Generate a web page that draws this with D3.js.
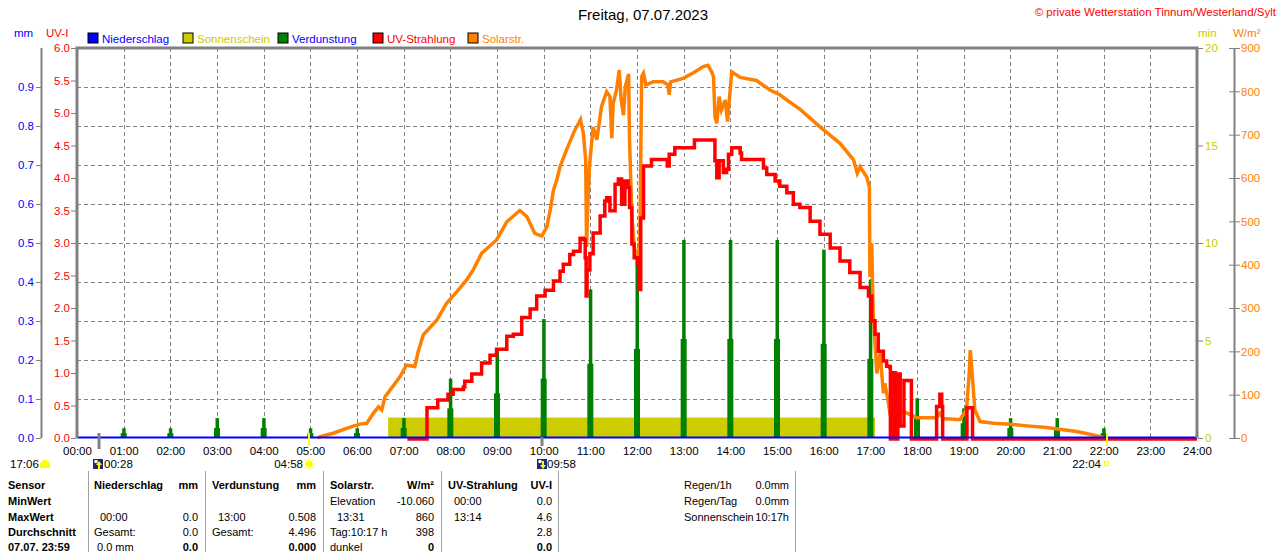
<!DOCTYPE html>
<html>
<head>
<meta charset="utf-8">
<script src="https://cdn.jsdelivr.net/npm/d3@7"></script>
<style>
body { margin: 0; background: #fff; }
svg { display: block; font-family: "Liberation Sans", Arial, sans-serif; }
</style>
</head>
<body>
<div id="chart"></div>
<script>
// ---- data ----
var hourTicks = [0, 1, 2, 3, 4, 5, 6, 7, 8, 9, 10, 11, 12, 13, 14, 15, 16, 17, 18, 19, 20, 21, 22, 23, 24];
var mmTicks = [0, 0.1, 0.2, 0.3, 0.4, 0.5, 0.6, 0.7, 0.8, 0.9];
var uvTicks = [0, 0.5, 1, 1.5, 2, 2.5, 3, 3.5, 4, 4.5, 5, 5.5, 6];
var minTicks = [0, 5, 10, 15, 20];
var solarTicks = [0, 100, 200, 300, 400, 500, 600, 700, 800, 900];

// Niederschlag (mm), flat zero all day
var rainTime = [0, 24];
var rainValue = [0, 0];

// Verdunstung per hour (mm)
var evapHours = [1, 2, 3, 4, 5, 6, 7, 8, 9, 10, 11, 12, 13, 14, 15, 16, 17, 18, 19, 20, 21, 22];
var evapValue = [0.025, 0.025, 0.051, 0.051, 0.025, 0.025, 0.051, 0.152, 0.229, 0.305, 0.381,
                 0.457, 0.508, 0.508, 0.508, 0.483, 0.406, 0.102, 0.076, 0.051, 0.051, 0.025];

// Sonnenschein (min)
var sunFrom = ["06:40"];
var sunTo = ["17:06"];
var sunValue = [1.05];

// Solarstrahlung (W/m2)
var solarTime = [5.15, 5.21, 5.49, 5.85, 6.06, 6.21, 6.35, 6.46, 6.53, 6.6, 6.92, 7.06, 7.24, 7.31, 7.42,
  7.71, 7.92, 8.14, 8.35, 8.49, 8.67, 8.99, 9.21, 9.49, 9.64, 9.81, 9.96, 10.07, 10.14, 10.21, 10.28,
  10.35, 10.49, 10.67, 10.79, 10.85, 10.9, 10.92, 10.94, 10.98, 11.06, 11.14, 11.24, 11.35, 11.42,
  11.46, 11.49, 11.56, 11.62, 11.66, 11.71, 11.75, 11.82, 11.84, 11.89, 11.94, 12.01, 12.06, 12.1,
  12.14, 12.19, 12.35, 12.56, 12.66, 12.69, 12.72, 12.99, 13.21, 13.42, 13.52, 13.6, 13.64, 13.67,
  13.71, 13.76, 13.81, 13.89, 13.94, 13.99, 14.03, 14.21, 14.56, 14.85, 15.06, 15.21, 15.49, 15.92,
  16.35, 16.64, 16.72, 16.78, 16.92, 16.98, 16.99, 17.03, 17.06, 17.14, 17.17, 17.21, 17.28, 17.31,
  17.39, 17.42, 17.64, 17.99, 18.42, 18.49, 18.56, 18.92, 19.06, 19.12, 19.14, 19.17, 19.24, 19.35,
  19.64, 19.99, 20.35, 20.78, 21.06, 21.42, 21.78, 21.92, 22.0];
var solarValue = [0, 3, 11, 25, 32, 34, 57, 72, 65, 95, 141, 168, 165, 199, 238,
  272, 311, 338, 365, 388, 426, 457, 499, 525, 511, 472, 466, 488, 526, 572, 595,
  626, 665, 711, 735, 703, 642, 441, 520, 626, 718, 688, 765, 799, 788,
  692, 772, 803, 849, 780, 745, 811, 840, 688, 511, 441, 411, 449, 834,
  842, 815, 822, 822, 815, 792, 822, 830, 843, 857, 860, 845, 834, 742,
  726, 788, 757, 780, 730, 795, 845, 832, 825, 803, 792, 780, 759, 718,
  680, 642, 611, 626, 603, 580, 372, 449, 288, 149, 172, 195, 103, 126,
  80, 57, 65, 47, 47, 57, 45, 42, 65, 150, 203, 165, 65, 38,
  34, 32, 28, 24, 20, 15, 7, 3, 0];

// UV-Strahlung (UV-I)
var uvTime = [7.08, 7.49, 7.5, 7.72, 7.73, 7.93, 7.95, 8.06, 8.28, 8.31, 8.46, 8.56, 8.67, 8.85, 8.99,
  9.21, 9.35, 9.53, 9.71, 9.85, 10.03, 10.21, 10.35, 10.42, 10.56, 10.64, 10.78, 10.85, 10.89, 10.91,
  10.93, 10.99, 11.06, 11.21, 11.31, 11.35, 11.42, 11.46, 11.53, 11.6, 11.67, 11.74, 11.81, 11.84,
  11.89, 11.94, 12.01, 12.05, 12.08, 12.14, 12.28, 12.31, 12.49, 12.6, 12.65, 12.69, 12.81, 13.21,
  13.23, 13.6, 13.67, 13.71, 13.76, 13.85, 13.92, 13.96, 14.03, 14.21, 14.24, 14.49, 14.71, 14.78,
  14.96, 15.06, 15.21, 15.35, 15.49, 15.71, 15.92, 16.14, 16.35, 16.56, 16.78, 16.96, 17.03, 17.1,
  17.17, 17.28, 17.35, 17.42, 17.43, 17.47, 17.48, 17.53, 17.54, 17.58, 17.59, 17.63, 17.64, 17.7,
  17.72, 17.86, 17.88, 18.39, 18.42, 18.49, 18.53, 18.55, 19.06, 19.07, 19.17, 19.19, 24];
var uvValue = [0, 0, 0.48, 0.48, 0.6, 0.6, 0.69, 0.76, 0.8, 0.89, 1.0, 1.0, 1.17, 1.29, 1.38,
  1.58, 1.61, 1.87, 2.0, 2.2, 2.29, 2.43, 2.58, 2.69, 2.84, 2.89, 3.09, 3.07, 2.79, 2.2,
  2.6, 2.85, 3.17, 3.43, 3.66, 3.71, 3.51, 3.51, 3.92, 4.0, 3.61, 3.97, 3.87, 3.56,
  3.0, 2.79, 2.69, 2.3, 3.4, 4.2, 4.2, 4.3, 4.3, 4.3, 4.2, 4.38, 4.48, 4.48,
  4.6, 4.6, 4.28, 4.02, 4.28, 4.1, 4.15, 4.38, 4.48, 4.4, 4.3, 4.3, 4.17, 4.07,
  3.97, 3.89, 3.79, 3.61, 3.56, 3.35, 3.15, 2.94, 2.74, 2.56, 2.33, 2.2, 1.82, 1.61,
  1.35, 1.2, 1.12, 1.1, 0, 0, 1.02, 1.02, 0, 0, 1.0, 1.0, 0.2, 0.2,
  0.9, 0.9, 0, 0, 0.5, 0.69, 0.5, 0, 0, 0.48, 0.48, 0, 0];

// moon / sun markers under the time axis
var markerTime = ["00:28", "04:58", "09:58", "22:04"];
var markerKind = ["moonrise", "sunrise", "moonset", "sunset"];

// ---- layout ----
var width = 1280, height = 552;
var plotL = 77, plotR = 1197, plotT = 48, plotB = 438;
var fontAxis = "11.5px";
var cBlue = "#0000ff", cYellow = "#cccc00", cGreen = "#008000", cRed = "#ff0000", cOrange = "#ff8000", cGray = "#808080";

function hm(s) { var p = s.split(":"); return +p[0] + p[1] / 60; }

var svg = d3.select("#chart").append("svg")
    .attr("width", width)
    .attr("height", height);

var x = d3.scaleLinear().domain([0, 24]).range([plotL, plotR]);
var yMm = d3.scaleLinear().domain([0, 1]).range([plotB, plotT]);
var yUv = d3.scaleLinear().domain([0, 6]).range([plotB, plotT]);
var yMin = d3.scaleLinear().domain([0, 20]).range([plotB, plotT]);
var yW = d3.scaleLinear().domain([0, 900]).range([plotB, plotT]);

// title + copyright
svg.append("text").attr("x", 643).attr("y", 20).attr("text-anchor", "middle")
    .attr("font-size", "15px").attr("fill", "#000").text("Freitag, 07.07.2023");
svg.append("text").attr("x", 1276).attr("y", 16).attr("text-anchor", "end")
    .attr("font-size", "11.5px").attr("fill", cRed).text("\u00A9 private Wetterstation Tinnum/Westerland/Sylt");

// unit labels
svg.append("text").attr("x", 14).attr("y", 37).attr("font-size", fontAxis).attr("fill", cBlue).text("mm");
svg.append("text").attr("x", 46).attr("y", 37).attr("font-size", fontAxis).attr("fill", cRed).text("UV-I");
svg.append("text").attr("x", 1198).attr("y", 37).attr("font-size", fontAxis).attr("fill", cYellow).text("min");
svg.append("text").attr("x", 1233).attr("y", 37).attr("font-size", fontAxis).attr("fill", cOrange).text("W/m\u00B2");

// legend
var legendNames = ["Niederschlag", "Sonnenschein", "Verdunstung", "UV-Strahlung", "Solarstr."];
var legendFill = [cBlue, cYellow, cGreen, cRed, cOrange];
var legendText = [cBlue, cYellow, cBlue, cRed, cOrange];
var legend = svg.append("g").selectAll("g").data(legendNames).enter().append("g")
    .attr("transform", function (d, i) { return "translate(" + (88 + i * 95) + ",33)"; });
legend.append("rect").attr("width", 10).attr("height", 10)
    .attr("fill", function (d, i) { return legendFill[i]; })
    .attr("stroke", "#000").attr("stroke-width", 1);
legend.append("text").attr("x", 14).attr("y", 9.5).attr("font-size", fontAxis)
    .attr("fill", function (d, i) { return legendText[i]; })
    .text(function (d) { return d; });

// grid
var grid = svg.append("g").attr("stroke", cGray).attr("stroke-width", 1).attr("stroke-dasharray", "4,3");
grid.selectAll("line.v").data(hourTicks.slice(1, -1)).enter().append("line")
    .attr("x1", function (d) { return Math.round(x(d)) + 0.5; })
    .attr("x2", function (d) { return Math.round(x(d)) + 0.5; })
    .attr("y1", plotT).attr("y2", plotB);
grid.selectAll("line.h").data(mmTicks.slice(1)).enter().append("line")
    .attr("x1", plotL).attr("x2", plotR)
    .attr("y1", function (d) { return Math.round(yMm(d)) + 0.5; })
    .attr("y2", function (d) { return Math.round(yMm(d)) + 0.5; });

// sunshine
svg.append("g").selectAll("rect").data(sunValue).enter().append("rect")
    .attr("x", function (d, i) { return x(hm(sunFrom[i])); })
    .attr("width", function (d, i) { return x(hm(sunTo[i])) - x(hm(sunFrom[i])); })
    .attr("y", function (d) { return yMin(d); })
    .attr("height", function (d) { return plotB - yMin(d); })
    .attr("fill", cYellow);

// evaporation bars (stepped: narrow full bar on a wider half-height foot)
var evap = svg.append("g").attr("fill", cGreen);
evap.selectAll("rect.foot").data(evapValue).enter().append("rect")
    .attr("x", function (d, i) { return x(evapHours[i]) - 3; })
    .attr("width", 6)
    .attr("y", function (d) { return yMm(d / 2); })
    .attr("height", function (d) { return plotB - yMm(d / 2); });
evap.selectAll("rect.top").data(evapValue).enter().append("rect")
    .attr("x", function (d, i) { return x(evapHours[i]) - 1.5; })
    .attr("width", 3.5)
    .attr("y", function (d) { return yMm(d); })
    .attr("height", function (d) { return plotB - yMm(d); });

// solar radiation
var solarLine = d3.line()
    .x(function (d, i) { return x(solarTime[i]); })
    .y(function (d) { return yW(d); });
svg.append("path").datum(solarValue)
    .attr("d", solarLine).attr("fill", "none")
    .attr("stroke", cOrange).attr("stroke-width", 3.5).attr("stroke-linejoin", "miter");

// UV (logged in steps)
var uvLine = d3.line()
    .curve(d3.curveStepAfter)
    .x(function (d, i) { return x(uvTime[i]); })
    .y(function (d) { return yUv(d) + 1; });
svg.append("path").datum(uvValue)
    .attr("d", uvLine).attr("fill", "none")
    .attr("stroke", cRed).attr("stroke-width", 3.5).attr("stroke-linejoin", "miter");

// precipitation line at zero
var rainLine = d3.line()
    .x(function (d, i) { return x(rainTime[i]); })
    .y(function (d) { return yMm(d) - 0.5; });
svg.append("path").datum(rainValue)
    .attr("d", rainLine).attr("fill", "none").attr("stroke", cBlue).attr("stroke-width", 2);

// plot frame
svg.append("path")
    .attr("d", "M" + plotL + "," + plotB + "V" + plotT + "H" + plotR + "V" + plotB)
    .attr("fill", "none").attr("stroke", cGray).attr("stroke-width", 3);

// axes
function styleAxis(g, color) {
    g.selectAll("text").attr("fill", color).attr("font-size", fontAxis)
        .attr("font-family", "'Liberation Sans', Arial, sans-serif");
    g.selectAll("line").attr("stroke", cGray);
    g.select(".domain").attr("stroke", cGray);
}

var mmAxis = svg.append("g").attr("transform", "translate(41,0)")
    .call(d3.axisLeft(yMm).tickValues(mmTicks).tickFormat(d3.format(".1f")).tickSize(5).tickSizeOuter(0).tickPadding(2));
styleAxis(mmAxis, cBlue);
mmAxis.select(".domain").attr("d", "M0.5," + plotT + "V" + plotB).attr("stroke-width", 2);

var uvAxis = svg.append("g").attr("transform", "translate(" + (plotL - 1) + ",0)")
    .call(d3.axisLeft(yUv).tickValues(uvTicks).tickFormat(d3.format(".1f")).tickSize(5).tickPadding(1));
styleAxis(uvAxis, cRed);
uvAxis.select(".domain").remove();

var minAxis = svg.append("g").attr("transform", "translate(" + (plotR + 1) + ",0)")
    .call(d3.axisRight(yMin).tickValues(minTicks).tickFormat(d3.format("d")).tickSize(5).tickPadding(2));
styleAxis(minAxis, cYellow);
minAxis.select(".domain").remove();

var wAxis = svg.append("g").attr("transform", "translate(1234,0)")
    .call(d3.axisRight(yW).tickValues(solarTicks).tickFormat(d3.format("d")).tickSize(6).tickSizeOuter(0).tickPadding(1));
styleAxis(wAxis, cOrange);
wAxis.selectAll(".tick line").attr("x1", -5);
wAxis.select(".domain").attr("d", "M0.5," + plotT + "V" + plotB).attr("stroke-width", 2);

var xAxis = svg.append("g").attr("transform", "translate(0," + plotB + ")")
    .call(d3.axisBottom(x).tickValues(hourTicks)
        .tickFormat(function (d) { return (d < 10 ? "0" : "") + d + ":00"; })
        .tickSize(0).tickPadding(9));
styleAxis(xAxis, "#000");
xAxis.select(".domain").remove();

// moon / sun markers
var marks = svg.append("g");
markerTime.forEach(function (t, i) {
    var mx = Math.round(x(hm(t)));
    var kind = markerKind[i];
    var isSun = kind.indexOf("sun") === 0;
    marks.append("line").attr("x1", mx).attr("x2", mx)
        .attr("y1", isSun ? 433 : (kind === "moonrise" ? 433 : 437))
        .attr("y2", isSun ? 446 : (kind === "moonrise" ? 449 : 446))
        .attr("stroke", isSun ? "#ffff00" : cGray).attr("stroke-width", isSun ? 2 : 3);
});

function moonIcon(g, px, up) {
    g.append("rect").attr("x", px).attr("y", 459).attr("width", 10).attr("height", 10).attr("fill", "#1a2a7a");
    g.append("circle").attr("cx", px + 3).attr("cy", 461.5).attr("r", 1.8).attr("fill", "#fff");
    var ay = up ? "M" + (px + 6) + ",461 l-3,4 h2 v4 h2 v-4 h2 z" : "M" + (px + 6) + ",469 l-3,-4 h2 v-4 h2 v4 h2 z";
    g.append("path").attr("d", ay).attr("fill", "#ffff00");
}
function sunIcon(g, cx, cy) {
    g.append("circle").attr("cx", cx).attr("cy", cy).attr("r", 3.5).attr("fill", "#ffff00");
    for (var a = 0; a < 8; a++) {
        var ang = a * Math.PI / 4;
        g.append("line")
            .attr("x1", cx + Math.cos(ang) * 4.5).attr("y1", cy + Math.sin(ang) * 4.5)
            .attr("x2", cx + Math.cos(ang) * 6).attr("y2", cy + Math.sin(ang) * 6)
            .attr("stroke", "#ffff00").attr("stroke-width", 1.2);
    }
}

var info = svg.append("g").attr("font-size", fontAxis).attr("fill", "#000");
info.append("text").attr("x", 10).attr("y", 468).text("17:06");
info.append("path").attr("d", "M40,468 v-3 a5,5 0 0 1 10,0 v3 z").attr("fill", "#ffff00");
moonIcon(info, 93, true);
info.append("text").attr("x", 104).attr("y", 468).text("00:28");
info.append("text").attr("x", 303).attr("y", 468).attr("text-anchor", "end").text("04:58");
sunIcon(info, 309, 464);
moonIcon(info, 537, false);
info.append("text").attr("x", 547).attr("y", 468).text("09:58");
info.append("text").attr("x", 1101).attr("y", 468).attr("text-anchor", "end").text("22:04");
info.append("rect").attr("x", 1104.5).attr("y", 461.5).attr("width", 4).attr("height", 4)
    .attr("fill", "none").attr("stroke", "#ffff00").attr("stroke-width", 1);

// summary table
var rowY = [489, 505, 521, 536, 551];
var tableCells = [
    // x, row, text, anchor, bold
    [8, 0, "Sensor", "start", 1], [8, 1, "MinWert", "start", 1], [8, 2, "MaxWert", "start", 1],
    [8, 3, "Durchschnitt", "start", 1], [8, 4, "07.07. 23:59", "start", 1],

    [94, 0, "Niederschlag", "start", 1], [198, 0, "mm", "end", 1],
    [100, 2, "00:00", "start", 0], [198, 2, "0.0", "end", 0],
    [94, 3, "Gesamt:", "start", 0], [198, 3, "0.0", "end", 0],
    [97, 4, "0.0 mm", "start", 0], [198, 4, "0.0", "end", 1],

    [212, 0, "Verdunstung", "start", 1], [316, 0, "mm", "end", 1],
    [218, 2, "13:00", "start", 0], [316, 2, "0.508", "end", 0],
    [212, 3, "Gesamt:", "start", 0], [316, 3, "4.496", "end", 0],
    [316, 4, "0.000", "end", 1],

    [330, 0, "Solarstr.", "start", 1], [434, 0, "W/m\u00B2", "end", 1],
    [330, 1, "Elevation", "start", 0], [434, 1, "-10.060", "end", 0],
    [337, 2, "13:31", "start", 0], [434, 2, "860", "end", 0],
    [330, 3, "Tag:10:17 h", "start", 0], [434, 3, "398", "end", 0],
    [330, 4, "dunkel", "start", 0], [434, 4, "0", "end", 1],

    [448, 0, "UV-Strahlung", "start", 1], [552, 0, "UV-I", "end", 1],
    [454, 1, "00:00", "start", 0], [552, 1, "0.0", "end", 0],
    [454, 2, "13:14", "start", 0], [552, 2, "4.6", "end", 0],
    [552, 3, "2.8", "end", 0],
    [552, 4, "0.0", "end", 1],

    [684, 0, "Regen/1h", "start", 0], [789, 0, "0.0mm", "end", 0],
    [684, 1, "Regen/Tag", "start", 0], [789, 1, "0.0mm", "end", 0],
    [684, 2, "Sonnenschein", "start", 0], [789, 2, "10:17h", "end", 0]
];
var table = svg.append("g").attr("font-size", "11px").attr("fill", "#000");
table.selectAll("text").data(tableCells).enter().append("text")
    .attr("x", function (d) { return d[0]; })
    .attr("y", function (d) { return rowY[d[1]]; })
    .attr("text-anchor", function (d) { return d[3]; })
    .attr("font-weight", function (d) { return d[4] ? "bold" : "normal"; })
    .text(function (d) { return d[2]; });

var sepX = [88, 205, 323, 441, 558, 795];
table.selectAll("line").data(sepX).enter().append("line")
    .attr("x1", function (d) { return d + 0.5; }).attr("x2", function (d) { return d + 0.5; })
    .attr("y1", 471).attr("y2", height)
    .attr("stroke", "#a0a0a0").attr("stroke-width", 1);
</script>
</body>
</html>
